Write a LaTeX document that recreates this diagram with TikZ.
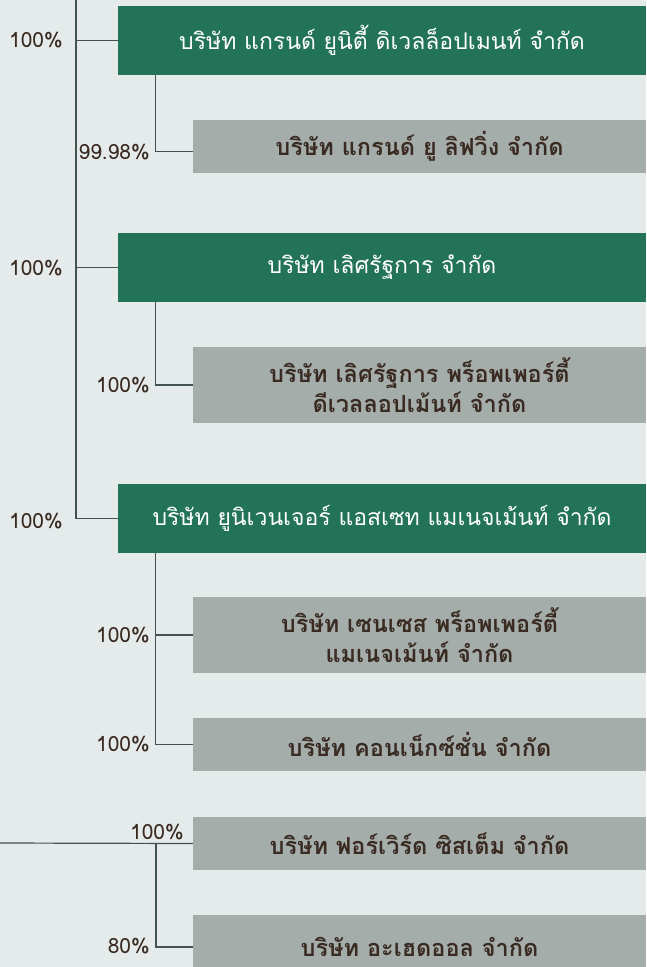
\documentclass[tikz,border=0pt]{standalone}
\usepackage{fontspec}
\setmainfont[Script=Thai]{Loma}
\definecolor{pagebg}{HTML}{E5EBEA}
\definecolor{boxgreen}{HTML}{227358}
\definecolor{boxgray}{HTML}{A5ADAB}
\definecolor{textbrown}{HTML}{3A2B22}
\definecolor{linegray}{HTML}{41524F}

\begin{document}
\begin{tikzpicture}[x=1pt,y=-1pt,
  parent/.style={fill=boxgreen,text=white,minimum width=528pt,minimum height=69pt,inner sep=0pt,font=\fontsize{23}{30}\selectfont},
  child/.style={fill=boxgray,text=textbrown,minimum width=453pt,inner sep=0pt,align=center,font=\fontsize{23.5}{30}\selectfont\bfseries},
  link/.style={draw=linegray,line width=1.2pt},
  pct/.style={text=textbrown,inner sep=0pt,font=\fontsize{21}{24}\selectfont}]

\fill[pagebg] (0,0) rectangle (646,967);
\useasboundingbox (0,0) rectangle (646,967);
\clip (0,0) rectangle (646,967);

\node[parent] (g1) at (382,40.5) {บริษัท แกรนด์ ยูนิตี้ ดิเวลล็อปเมนท์ จำกัด};
\node[child,minimum height=53pt] (c1) at (419.5,146.5) {บริษัท แกรนด์ ยู ลิฟวิ่ง จำกัด};
\node[parent] (g2) at (382,267.5) {บริษัท เลิศรัฐการ จำกัด};
\node[child,minimum height=76pt] (c2) at (419.5,385) {บริษัท เลิศรัฐการ พร็อพเพอร์ตี้\\ดีเวลลอปเม้นท์ จำกัด};
\node[parent] (g3) at (382,518.5) {บริษัท ยูนิเวนเจอร์ แอสเซท แมเนจเม้นท์ จำกัด};
\node[child,minimum height=76pt] (c3) at (419.5,635) {บริษัท เซนเซส พร็อพเพอร์ตี้\\แมเนจเม้นท์ จำกัด};
\node[child,minimum height=53pt] (c4) at (419.5,744.5) {บริษัท คอนเน็กซ์ชั่น จำกัด};
\node[child,minimum height=53pt] (c5) at (419.5,843.5) {บริษัท ฟอร์เวิร์ด ซิสเต็ม จำกัด};
\node[child,minimum height=64pt] (c6) at (419.5,947) {บริษัท อะเฮดออล จำกัด};

% main trunk
\coordinate (top) at (76,0);
\draw[link] (top) |- (g3.west);
\draw[link] (top |- g1.west) -- (g1.west);
\draw[link] (top |- g2.west) -- (g2.west);

% branches
\coordinate (b1) at ([xshift=38pt]g1.south west);
\draw[link] (b1) |- ([yshift=-5pt]c1.west);
\coordinate (b2) at ([xshift=38pt]g2.south west);
\draw[link] (b2) |- (c2.west);
\coordinate (b3) at ([xshift=38pt]g3.south west);
\draw[link] (b3) |- (c4.west);
\draw[link] (b3 |- c3.west) -- (c3.west);

% bottom group
\coordinate (left) at (0,843);
\draw[link] (left) -- (c5.west);
\coordinate (b4) at (156,843);
\draw[link] (b4) |- (c6.west);

\node[pct,anchor=east] (p1) at (63,40) {100\%};
\node[pct,anchor=east] (p2) at (150,152) {99.98\%};
\node[pct,anchor=east] (p3) at (63,268) {100\%};
\node[pct,anchor=east] (p4) at (150,385) {100\%};
\node[pct,anchor=east] (p5) at (63,521) {100\%};
\node[pct,anchor=east] (p6) at (150,635) {100\%};
\node[pct,anchor=east] (p7) at (150,744) {100\%};
\node[pct,anchor=south east] (p8) at (184,840) {100\%};
\node[pct,anchor=east] (p9) at (150,946) {80\%};
\end{tikzpicture}
\end{document}
